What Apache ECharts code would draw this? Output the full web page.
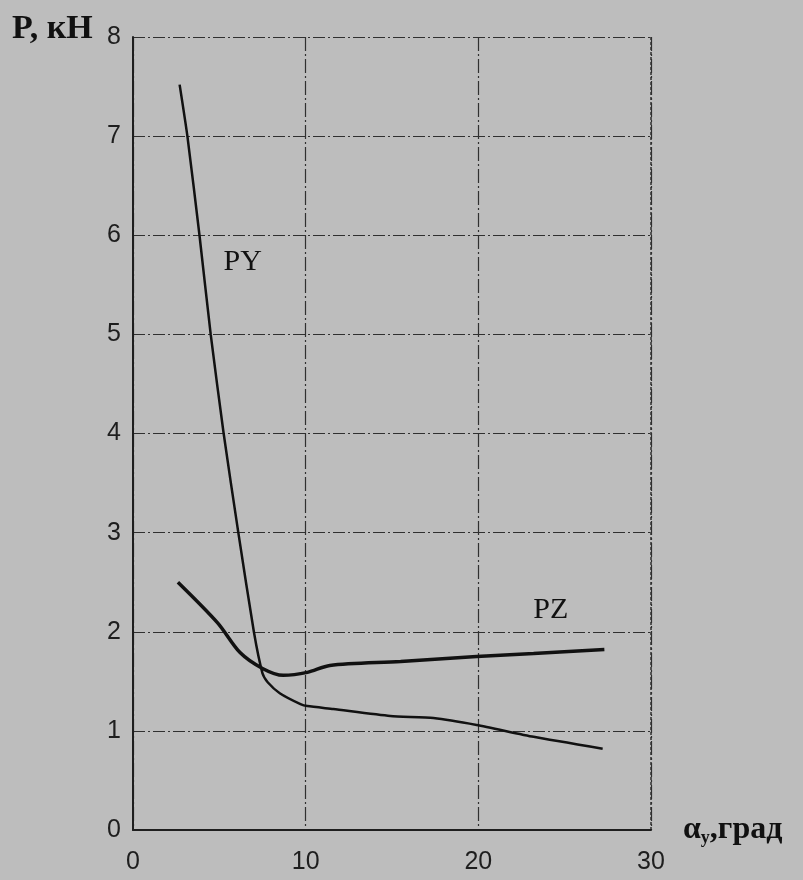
<!DOCTYPE html>
<html><head><meta charset="utf-8">
<script src="https://cdn.jsdelivr.net/npm/echarts@6/dist/echarts.min.js"></script>
<style>html,body{margin:0;padding:0;background:#bdbdbd;}#c{width:803px;height:880px;}</style>
</head><body><div id="c"></div>
<script>
var xTicks = [0, 10, 20, 30];
var yTicks = [0, 1, 2, 3, 4, 5, 6, 7, 8];
var pyAngle = [2.7, 3.15, 3.85, 4.5, 5.25, 6.1, 7.0, 7.5, 7.8, 8.5, 9.7, 10.1, 11.6, 14.9, 17.4, 19.9, 23.2, 27.2];
var pyForce = [7.52, 7.0, 6.0, 5.0, 4.0, 3.0, 2.0, 1.58, 1.49, 1.38, 1.27, 1.25, 1.22, 1.15, 1.13, 1.06, 0.94, 0.82];
var pzAngle = [2.6, 4.9, 6.2, 7.5, 8.7, 10.1, 11.4, 15.5, 19.9, 23.2, 27.3];
var pzForce = [2.50, 2.09, 1.79, 1.63, 1.56, 1.59, 1.66, 1.70, 1.75, 1.78, 1.82];
var seriesNames = ['PY', 'PZ'];
var labelPos = [[6.35, 5.73], [24.2, 2.22]];

function pairs(xs, ys){ return xs.map(function(x,i){return [x, ys[i]];}); }
var chart = echarts.init(document.getElementById('c'));
var gridStyle = {type:[12,3,2,3], color:'#303030', width:1.2};
chart.setOption({
  backgroundColor:'#bdbdbd',
  animation:false,
  grid:{left:133, right:152, top:37, bottom:50},
  xAxis:{type:'value', min:0, max:30, interval:10,
    axisLine:{show:true, lineStyle:{color:'#1e1e1e', width:2}},
    axisTick:{show:false},
    axisLabel:{color:'#1e1e1e', fontSize:25, fontFamily:'Liberation Sans', margin:20,
      formatter:function(v){return xTicks.indexOf(v)>=0? String(v):'';}},
    splitLine:{show:true, lineStyle:{type:[14,3,2,3], color:'#303030', width:1.2}},
    name:'{a|α}{s|y}{a|,град}', nameLocation:'end', nameGap:32,
    nameTextStyle:{rich:{
      a:{fontFamily:'Liberation Serif', fontWeight:'bold', fontSize:32, color:'#111'},
      s:{fontFamily:'Liberation Serif', fontWeight:'bold', fontSize:18, color:'#111', verticalAlign:'bottom', padding:[16,0,0,0]}
    }}
  },
  yAxis:{type:'value', min:0, max:8, interval:1,
    axisLine:{show:true, lineStyle:{color:'#1e1e1e', width:2}},
    axisTick:{show:false},
    axisLabel:{color:'#1e1e1e', fontSize:25, fontFamily:'Liberation Sans', margin:12,
      formatter:function(v){return yTicks.indexOf(v)>=0? String(v):'';}},
    splitLine:{show:true, lineStyle:gridStyle}
  },
  graphic:[
    {type:'text', left:12, top:12, style:{text:'P, кН', font:'bold 34px "Liberation Serif"', fill:'#111'}},
    {type:'line', shape:{x1:651, y1:37, x2:651, y2:830}, style:{stroke:'#303030', lineWidth:1.5, lineDash:[3,2]}}
  ],
  series:[
    {name:seriesNames[0], type:'line', data:pairs(pyAngle, pyForce), smooth:0.2, showSymbol:false,
      lineStyle:{color:'#111', width:2.5}},
    {name:seriesNames[1], type:'line', data:pairs(pzAngle, pzForce), smooth:0.3, showSymbol:false,
      lineStyle:{color:'#111', width:3.5}},
    {type:'scatter', symbolSize:1, itemStyle:{opacity:0}, silent:true,
      data:labelPos.map(function(p,i){return {value:p, label:{show:true, formatter:seriesNames[i], position:'inside',
        fontFamily:'Liberation Serif', fontSize:30, color:'#111', opacity:1}};})}
  ]
});
</script></body></html>
